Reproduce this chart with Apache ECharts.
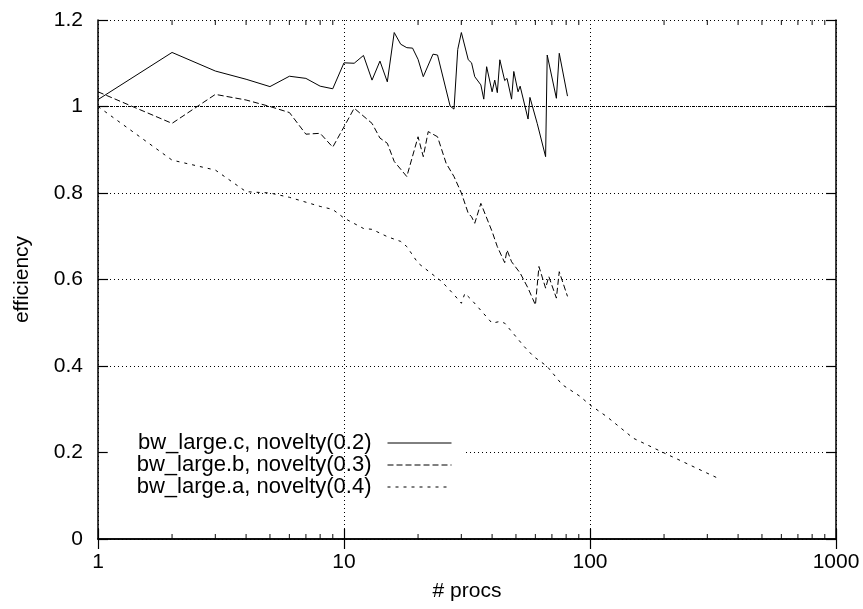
<!DOCTYPE html>
<html><head><meta charset="utf-8">
<script src="https://cdn.jsdelivr.net/npm/echarts@6/dist/echarts.min.js"></script>
<style>html,body{margin:0;padding:0;background:#fff}#c{width:863px;height:609px}</style>
</head><body><div id="c"></div>
<script>
const seriesNames = ['bw_large.c, novelty(0.2)', 'bw_large.b, novelty(0.3)', 'bw_large.a, novelty(0.4)'];

const cProcs = [1,2,3,4,5,6,7,8,9,10,11,12,13,14,15,16,17,18,19,20,21,23,24,27,28,29,30,32,33,34,36,37,38,40,41,42,43,45,46,48,49,51,52,56,57,61,66,67,73,75,81];
const cEff = [1.016,1.125,1.082,1.063,1.046,1.070,1.065,1.047,1.041,1.101,1.100,1.118,1.061,1.105,1.057,1.171,1.144,1.136,1.135,1.109,1.069,1.121,1.119,1.001,0.994,1.132,1.171,1.108,1.101,1.069,1.050,1.017,1.092,1.034,1.061,1.032,1.108,1.060,1.065,1.017,1.081,1.034,1.047,0.971,1.021,0.961,0.884,1.119,1.019,1.123,1.024];

const bProcs = [1,2,3,4,5,6,7,8,9,10,11,13,14,15,16,18,20,21,22,24,26,28,30,32,33,34,36,40,42,45,46,48,52,56,60,62,66,68,73,75,81];
const bEff = [1.034,0.961,1.028,1.015,1.0,0.986,0.936,0.938,0.906,0.953,0.996,0.961,0.927,0.915,0.873,0.838,0.930,0.884,0.942,0.930,0.869,0.838,0.800,0.753,0.745,0.730,0.776,0.711,0.676,0.639,0.668,0.641,0.615,0.580,0.541,0.630,0.580,0.607,0.557,0.618,0.561];

const aProcs = [1,2,3,4,5,6,8,9,10,12,13,15,17,18,20,23,25,28,30,31,33,40,43,45,54,59,67,77,91,100,117,150,200,240,280,330];
const aEff = [1.0,0.876,0.853,0.803,0.800,0.790,0.769,0.762,0.742,0.718,0.716,0.699,0.688,0.676,0.638,0.611,0.595,0.565,0.545,0.568,0.553,0.499,0.503,0.499,0.445,0.422,0.399,0.357,0.330,0.310,0.283,0.233,0.199,0.178,0.160,0.141];

const minorTickProcs = [2,3,4,5,6,7,8,9,20,30,40,50,60,70,80,90,200,300,400,500,600,700,800,900];
const yTickValues = [0, 0.2, 0.4, 0.6, 0.8, 1, 1.2];
const xTickLabels = ['1', '10', '100', '1000'];
const referenceLevel = 1;

const FONT = 'Liberation Sans';
const FS = 21;
const zip = (xs, ys) => xs.map((x, i) => [x, ys[i]]);
const grid = { left: 98, right: 27, top: 20, bottom: 70 };
const dotted = { color: '#000', width: 1, type: [1, 3] };

const chart = echarts.init(document.getElementById('c'), null, { renderer: 'canvas' });
chart.setOption({
  backgroundColor: '#fff',
  animation: false,
  textStyle: { fontFamily: FONT },
  grid: grid,
  legend: {
    data: seriesNames,
    orient: 'vertical',
    align: 'right',
    right: 397,
    top: 422,
    itemWidth: 64,
    itemHeight: 14,
    itemGap: 0,
    padding: [10, 14, 10, 29],
    backgroundColor: '#fff',
    z: 4,
    itemStyle: { opacity: 0 },
    lineStyle: { width: 1 },
    textStyle: { fontFamily: FONT, fontSize: 22, color: '#000', lineHeight: 21, padding: [0, 11, 0, 0] }
  },
  xAxis: [{
    type: 'log', logBase: 10, min: 1, max: 1000, position: 'bottom', z: 5,
    name: '# procs', nameLocation: 'middle', nameGap: 42,
    nameTextStyle: { fontFamily: FONT, fontSize: FS, color: '#000' },
    axisLine: { show: true, lineStyle: { color: '#000', width: 1.5 } },
    axisTick: { show: true, inside: true, length: 10, lineStyle: { color: '#000', width: 1.2 } },
    axisLabel: { fontFamily: FONT, fontSize: FS, color: '#000', margin: 13,
      formatter: v => xTickLabels[Math.round(Math.log10(v))] },
    splitLine: { show: true, lineStyle: dotted },
    minorTick: { show: false }
  }, {
    type: 'log', logBase: 10, min: 1, max: 1000, position: 'top', z: 5,
    axisLine: { show: true, lineStyle: { color: '#000', width: 1.5 } },
    axisTick: { show: true, inside: true, length: 10, lineStyle: { color: '#000', width: 1.2 } },
    axisLabel: { show: false },
    splitLine: { show: false }
  }],
  yAxis: [{
    type: 'value', min: 0, max: 1.2, interval: 0.2, position: 'left', z: 1,
    name: 'efficiency', nameLocation: 'middle', nameGap: 65,
    nameTextStyle: { fontFamily: FONT, fontSize: FS, color: '#000' },
    axisLine: { show: true, lineStyle: { color: '#000', width: 1.5 } },
    axisTick: { show: true, inside: true, length: 10, lineStyle: { color: '#000', width: 1.2 } },
    axisLabel: { fontFamily: FONT, fontSize: FS, color: '#000', margin: 15,
      formatter: v => String(yTickValues.find(t => Math.abs(t - v) < 1e-9)) },
    splitLine: { show: true, lineStyle: dotted }
  }, {
    type: 'value', min: 0, max: 1.2, interval: 0.2, position: 'right', z: 1,
    axisLine: { show: true, lineStyle: { color: '#000', width: 1.5 } },
    axisTick: { show: true, inside: true, length: 10, lineStyle: { color: '#000', width: 1.2 } },
    axisLabel: { show: false },
    splitLine: { show: false }
  }],
  series: [{
    name: seriesNames[0], type: 'line', data: zip(cProcs, cEff), showSymbol: false, symbol: 'none',
    lineStyle: { color: '#000', width: 1, type: 'solid' }, itemStyle: { color: '#000' },
    markLine: { silent: true, symbol: 'none', label: { show: false },
      lineStyle: { color: '#000', width: 1, type: [3, 1, 1, 1] }, data: [{ yAxis: referenceLevel }] }
  }, {
    name: seriesNames[1], type: 'line', data: zip(bProcs, bEff), showSymbol: false, symbol: 'none',
    lineStyle: { color: '#000', width: 1, type: [6, 3] }, itemStyle: { color: '#000' }
  }, {
    name: seriesNames[2], type: 'line', data: zip(aProcs, aEff), showSymbol: false, symbol: 'none',
    lineStyle: { color: '#000', width: 1, type: [3, 5] }, itemStyle: { color: '#000' }
  }, {
    name: 'minorBottom', type: 'scatter', silent: true, clip: false, z: 6,
    data: minorTickProcs.map(x => [x, 0]), symbol: 'rect', symbolSize: [1.2, 5], symbolOffset: [0, -2.5],
    itemStyle: { color: '#000' }
  }, {
    name: 'minorTop', type: 'scatter', silent: true, clip: false, z: 6,
    data: minorTickProcs.map(x => [x, 1.2]), symbol: 'rect', symbolSize: [1.2, 5], symbolOffset: [0, 2.5],
    itemStyle: { color: '#000' }
  }]
});
</script></body></html>
